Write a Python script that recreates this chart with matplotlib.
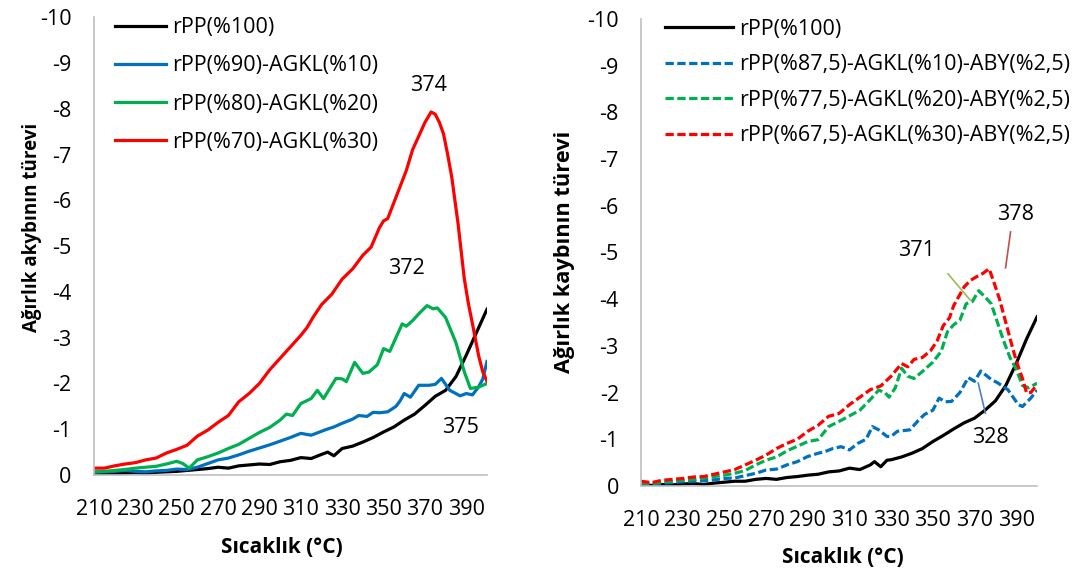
import matplotlib
matplotlib.use("Agg")
import matplotlib.pyplot as plt

plt.rcParams['font.family'] = ['Open Sans', 'DejaVu Sans']
plt.rcParams['axes.unicode_minus'] = False

########################
# DATA  (Ağırlık kaybının türevi)

# --- left panel
t_rpp_L = [210, 215, 220, 225, 230, 235, 240, 245, 250, 255, 260, 265, 270, 275, 280, 285, 290,
           295, 300, 305, 310, 315, 320, 323, 326, 330, 335, 340, 345, 350, 355, 360, 365, 370,
           375, 380, 385, 390, 395, 400]
y_rpp_L = [-0.03, -0.02, -0.03, -0.04, -0.05, -0.04, -0.06, -0.07, -0.08, -0.10, -0.12, -0.14,
           -0.17, -0.15, -0.20, -0.22, -0.24, -0.23, -0.29, -0.32, -0.38, -0.36, -0.45, -0.50,
           -0.42, -0.58, -0.63, -0.72, -0.82, -0.94, -1.05, -1.20, -1.33, -1.52, -1.72, -1.85,
           -2.15, -2.62, -3.12, -3.62]

t_agkl10 = [210, 215, 220, 225, 230, 235, 240, 245, 250, 255, 260, 265, 270, 275, 280, 285, 290,
            295, 300, 305, 310, 315, 318, 322, 326, 330, 335, 338, 342, 345, 348, 352, 356, 358,
            360, 363, 367, 372, 375, 378, 382, 387, 390, 393, 396, 398, 400]
y_agkl10 = [-0.06, -0.07, -0.08, -0.10, -0.08, -0.07, -0.09, -0.10, -0.13, -0.12, -0.17, -0.25,
            -0.33, -0.37, -0.44, -0.52, -0.59, -0.66, -0.74, -0.82, -0.91, -0.87, -0.92, -0.99,
            -1.05, -1.13, -1.22, -1.30, -1.28, -1.37, -1.36, -1.38, -1.50, -1.62, -1.78, -1.70,
            -1.96, -1.96, -1.98, -2.11, -1.85, -1.73, -1.78, -1.75, -1.93, -2.10, -2.48]

t_agkl20 = [210, 215, 220, 225, 230, 235, 240, 245, 250, 253, 256, 260, 265, 270, 275, 280, 285,
            290, 295, 300, 303, 306, 310, 315, 318, 321, 324, 327, 330, 332, 336, 340, 343, 347,
            350, 353, 356, 359, 361, 364, 367, 371, 374, 376, 380, 385, 389, 392, 396, 400]
y_agkl20 = [-0.07, -0.08, -0.10, -0.12, -0.15, -0.17, -0.19, -0.24, -0.30, -0.25, -0.15, -0.33,
            -0.40, -0.48, -0.58, -0.67, -0.80, -0.93, -1.04, -1.20, -1.33, -1.30, -1.56, -1.67,
            -1.85, -1.67, -1.89, -2.11, -2.10, -2.04, -2.46, -2.22, -2.25, -2.41, -2.76, -2.70,
            -3.00, -3.30, -3.25, -3.37, -3.52, -3.70, -3.63, -3.65, -3.44, -2.89, -2.26, -1.89,
            -1.92, -2.00]

t_agkl30 = [210, 215, 220, 225, 230, 235, 240, 245, 250, 255, 260, 265, 270, 275, 280, 285, 290,
            295, 300, 305, 310, 313, 316, 320, 325, 330, 335, 340, 344, 348, 350, 352, 355, 358,
            361, 364, 367, 370, 373, 375, 377, 379, 381, 383, 386, 389, 391, 393, 396, 398, 400]
y_agkl30 = [-0.15, -0.15, -0.20, -0.24, -0.27, -0.33, -0.37, -0.48, -0.56, -0.65, -0.85, -0.98,
            -1.15, -1.30, -1.60, -1.78, -2.00, -2.30, -2.55, -2.80, -3.05, -3.22, -3.45, -3.72,
            -3.95, -4.28, -4.50, -4.80, -4.98, -5.40, -5.55, -5.60, -5.95, -6.30, -6.65, -7.10,
            -7.40, -7.70, -7.93, -7.88, -7.70, -7.45, -7.00, -6.50, -5.50, -4.30, -3.75, -3.30,
            -2.60, -2.25, -2.05]

# --- right panel
t_rpp_R = [210, 215, 220, 225, 230, 235, 240, 245, 250, 255, 260, 265, 270, 275, 280, 285, 290,
           295, 300, 305, 310, 315, 320, 322, 325, 328, 330, 335, 340, 345, 350, 355, 360, 365,
           370, 375, 380, 385, 390, 395, 400]
y_rpp_R = [-0.04, -0.01, -0.03, -0.02, -0.04, -0.05, -0.03, -0.06, -0.08, -0.10, -0.10, -0.14,
           -0.16, -0.14, -0.18, -0.20, -0.23, -0.25, -0.30, -0.32, -0.38, -0.35, -0.45, -0.52,
           -0.41, -0.55, -0.56, -0.62, -0.70, -0.80, -0.95, -1.08, -1.22, -1.35, -1.45, -1.62,
           -1.82, -2.15, -2.62, -3.15, -3.62]

t_aby10 = [210, 215, 220, 225, 230, 235, 240, 245, 250, 255, 260, 265, 270, 275, 280, 285, 290,
           295, 298, 302, 306, 310, 314, 318, 321, 324, 328, 330, 333, 339, 343, 346, 350, 353,
           356, 359, 363, 367, 370, 373, 378, 381, 386, 391, 393, 397, 400]
y_aby10 = [-0.06, -0.04, -0.06, -0.07, -0.09, -0.10, -0.11, -0.13, -0.16, -0.17, -0.22, -0.27,
           -0.34, -0.36, -0.45, -0.52, -0.63, -0.70, -0.73, -0.80, -0.84, -0.77, -0.91, -1.00,
           -1.27, -1.20, -1.06, -1.06, -1.17, -1.20, -1.40, -1.53, -1.62, -1.88, -1.80, -1.81,
           -2.00, -2.32, -2.24, -2.46, -2.28, -2.21, -2.06, -1.74, -1.70, -1.88, -2.05]

t_aby20 = [210, 215, 220, 225, 230, 235, 240, 245, 250, 255, 260, 265, 270, 275, 280, 285, 290,
           295, 300, 305, 310, 315, 320, 324, 327, 329, 332, 335, 338, 341, 345, 350, 354, 357,
           360, 363, 366, 369, 372, 375, 378, 381, 384, 387, 390, 393, 396, 400]
y_aby20 = [-0.07, -0.05, -0.08, -0.10, -0.12, -0.14, -0.17, -0.20, -0.23, -0.27, -0.33, -0.45,
           -0.55, -0.62, -0.75, -0.85, -0.95, -0.99, -1.27, -1.38, -1.50, -1.62, -1.85, -2.05,
           -2.00, -1.90, -2.10, -2.52, -2.35, -2.30, -2.45, -2.65, -2.88, -3.30, -3.45, -3.55,
           -3.90, -3.95, -4.18, -4.05, -3.90, -3.50, -3.10, -2.75, -2.50, -2.15, -2.10, -2.20]

t_aby30 = [210, 215, 220, 225, 230, 235, 240, 245, 250, 255, 260, 265, 270, 275, 280, 285, 290,
           295, 300, 305, 310, 315, 320, 325, 330, 335, 338, 341, 345, 349, 352, 355, 358, 360,
           363, 365, 368, 371, 374, 377, 379, 382, 385, 388, 390, 393, 395, 397, 400]
y_aby30 = [-0.10, -0.07, -0.12, -0.14, -0.16, -0.19, -0.20, -0.25, -0.30, -0.35, -0.45, -0.55,
           -0.66, -0.80, -0.91, -1.00, -1.17, -1.30, -1.49, -1.55, -1.74, -1.90, -2.06, -2.14,
           -2.35, -2.62, -2.55, -2.71, -2.75, -2.90, -3.10, -3.43, -3.60, -3.86, -4.10, -4.26,
           -4.40, -4.48, -4.55, -4.65, -4.40, -4.00, -3.50, -3.00, -2.68, -2.30, -1.99, -2.00,
           -2.17]

labels_L = ["rPP(%100)", "rPP(%90)-AGKL(%10)", "rPP(%80)-AGKL(%20)", "rPP(%70)-AGKL(%30)"]
labels_R = ["rPP(%100)", "rPP(%87,5)-AGKL(%10)-ABY(%2,5)", "rPP(%77,5)-AGKL(%20)-ABY(%2,5)",
            "rPP(%67,5)-AGKL(%30)-ABY(%2,5)"]
x_ticks = list(range(210, 391, 20))
y_ticks = list(range(0, -11, -1))

########################
# PLOTTING

fs = 15.5
lw = 2.3
dash = (2.6, 1.1)
cols = ['black', '#0070C0', '#00B050', '#FF0000']

fig = plt.figure(figsize=(10.75, 5.73), dpi=100)
ax1 = fig.add_axes([0.0874, 0.171, 0.3656, 0.799])
ax2 = fig.add_axes([0.5963, 0.152, 0.3684, 0.815])

ax1.plot(t_rpp_L, y_rpp_L, color=cols[0], lw=lw, label=labels_L[0])
ax1.plot(t_agkl10, y_agkl10, color=cols[1], lw=lw, label=labels_L[1])
ax1.plot(t_agkl20, y_agkl20, color=cols[2], lw=lw, label=labels_L[2])
ax1.plot(t_agkl30, y_agkl30, color=cols[3], lw=lw, label=labels_L[3])

ax2.plot(t_rpp_R, y_rpp_R, color=cols[0], lw=lw, label=labels_R[0])
ax2.plot(t_aby10, y_aby10, color=cols[1], lw=lw, dashes=dash, label=labels_R[1])
ax2.plot(t_aby20, y_aby20, color=cols[2], lw=lw, dashes=dash, label=labels_R[2])
ax2.plot(t_aby30, y_aby30, color=cols[3], lw=lw, dashes=dash, label=labels_R[3])

for ax in (ax1, ax2):
    ax.set_xlim(210, 400)
    ax.set_ylim(0, -10)
    ax.set_xticks(x_ticks)
    ax.set_yticks(y_ticks)
    ax.tick_params(length=0, labelsize=fs)
    ax.tick_params(axis='y', pad=16)
    ax.tick_params(axis='x', pad=17)
    for s in ('top', 'right'):
        ax.spines[s].set_visible(False)
    for s in ('left', 'bottom'):
        ax.spines[s].set_color('#BFBFBF')
        ax.spines[s].set_linewidth(1.2)

ax1.set_xlabel("Sıcaklık (°C)", fontsize=15, fontweight='bold')
ax1.xaxis.set_label_coords(0.478, -0.135)
ax1.set_ylabel("Ağırlık akybının türevi", fontsize=13.5, fontweight='bold')
ax1.yaxis.set_label_coords(-0.132, 0.541)

ax2.set_xlabel("Sıcaklık (°C)", fontsize=15, fontweight='bold')
ax2.xaxis.set_label_coords(0.51, -0.131)
ax2.set_ylabel("Ağırlık kaybının türevi", fontsize=15.7, fontweight='bold')
ax2.yaxis.set_label_coords(-0.167, 0.50)

ax1.legend(loc='upper left', bbox_to_anchor=(0.053, 1.0), frameon=False, fontsize=fs,
           handlelength=2.4, handletextpad=0.28, labelspacing=0.8, borderpad=0, borderaxespad=0)
ax2.legend(loc='upper left', bbox_to_anchor=(0.061, 1.0), frameon=False, fontsize=fs,
           handlelength=3.15, handletextpad=0.28, labelspacing=0.67, borderpad=0, borderaxespad=0)

# peak annotations
ax1.text(371.7, -8.5, "374", fontsize=fs, ha='center', va='center')
ax1.text(361.1, -4.52, "372", fontsize=fs, ha='center', va='center')
ax1.text(387.1, -1.03, "375", fontsize=fs, ha='center', va='center')

ax2.text(342.4, -5.05, "371", fontsize=fs, ha='center', va='center')
ax2.text(389.7, -5.82, "378", fontsize=fs, ha='center', va='center')
ax2.text(377.6, -1.03, "328", fontsize=fs, ha='center', va='center')
ax2.plot([357.3, 367.9], [-4.54, -3.98], color='#9BBB59', lw=1.2)
ax2.plot([387.3, 384.9], [-5.44, -4.67], color='#C0504D', lw=1.2)
ax2.plot([371.8, 375.2], [-2.20, -1.56], color='#4F81BD', lw=1.2)

fig.savefig("out.png", dpi=100)
